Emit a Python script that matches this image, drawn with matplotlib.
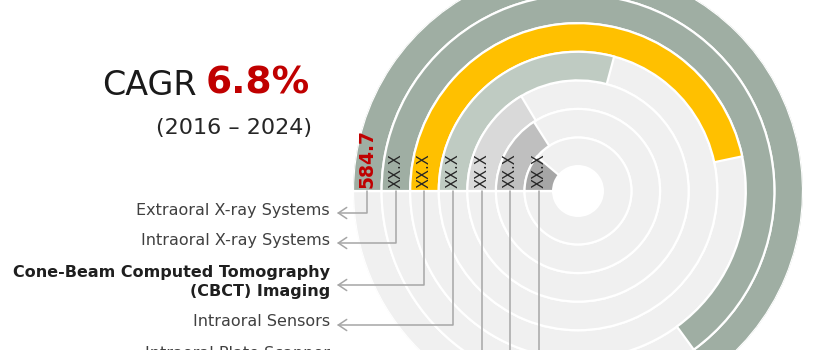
import numpy as np
import matplotlib
matplotlib.use("Agg")
import matplotlib.pyplot as plt

# ---------------- data ----------------
categories = ["Extraoral X-ray Systems",
              "Intraoral X-ray Systems",
              "Cone-Beam Computed Tomography\n(CBCT) Imaging",
              "Intraoral Sensors",
              "Intraoral Plate Scanner",
              "Intraoral Cameras",
              "Others"]
values = [584.7, 506.5, 364.0, 227.5, 128.0, 124.5, 86.5]
value_labels = ["584.7", "XX.X", "XX.X", "XX.X", "XX.X", "XX.X", "XX.X"]
bar_colors = ["#9FAEA3", "#9FAEA3", "#FFC000", "#BFCBC2",
              "#D9D9D9", "#BFBFBF", "#A6A6A6"]
highlight = [False, False, True, False, False, False, False]
scale_max = 779.6          # value corresponding to a full circle
cagr_word = "CAGR"
cagr_value = "6.8%"
period_text = "(2016 \u2013 2024)"

# ---------------- layout ----------------
W, H = 820, 350
fig = plt.figure(figsize=(W / 100, H / 100), dpi=100)
fig.patch.set_facecolor("white")

cx, cy, R = 578, 191, 225          # centre / radius in image pixels
ax = fig.add_axes([(cx - R) / W, (H - cy - R) / H, 2 * R / W, 2 * R / H],
                  projection="polar")
ax.set_theta_offset(np.pi)
ax.set_theta_direction(-1)
n = len(values)
hole = 0.87
ax.set_ylim(0, hole + n)
ax.set_axis_off()

track = "#F0F0F0"
px_per_unit = R / (hole + n)
label_y = [210, 240, 282, 322, 354, 395, 430]

for i, v in enumerate(values):
    k = n - 1 - i
    base = hole + k
    ax.bar(0, 1.0, width=2 * np.pi, bottom=base,
           align="edge", color=track, edgecolor="white", linewidth=1.6)
    ax.bar(0, 1.0, width=v / scale_max * 2 * np.pi, bottom=base,
           align="edge", color=bar_colors[i], edgecolor="white",
           linewidth=1.6, zorder=3)
    rc = base + 0.5
    th = 3.0 / (rc * px_per_unit)
    if i == 0:
        ax.text(th, rc, value_labels[i], rotation=90, ha="center",
                va="bottom", fontsize=13.5, fontweight="bold",
                color="#C00000", zorder=5)
    else:
        ax.text(th, rc, value_labels[i], rotation=90, ha="center",
                va="bottom", fontsize=10.5, color="#262626", zorder=5)
    # leader line with arrow to the category label
    ax.annotate("", xy=(0, rc), xycoords="data",
                xytext=(337, H - (label_y[i] + 3)), textcoords="figure pixels",
                arrowprops=dict(arrowstyle="<-,head_length=0.6,head_width=0.4",
                                color="#A6A6A6", lw=1.1,
                                connectionstyle="angle,angleA=0,angleB=90,rad=0",
                                shrinkA=0, shrinkB=0),
                annotation_clip=False, zorder=6)
    fig.text(330 / W, (H - label_y[i]) / H, categories[i],
             ha="right", va="center", fontsize=11.5,
             fontweight="bold" if highlight[i] else "normal",
             color="#1F1F1F" if highlight[i] else "#404040",
             linespacing=1.3)

# CAGR block
fig.text(197 / W, (H - 95) / H, cagr_word, ha="right", va="baseline",
         fontsize=24, color="#1A1A1A")
fig.text(310 / W, (H - 94) / H, cagr_value, ha="right", va="baseline",
         fontsize=27, fontweight="bold", color="#C00000")
fig.text(312 / W, (H - 128) / H, period_text, ha="right", va="center",
         fontsize=16, color="#262626")

fig.savefig("out.png", dpi=100, facecolor="white")
